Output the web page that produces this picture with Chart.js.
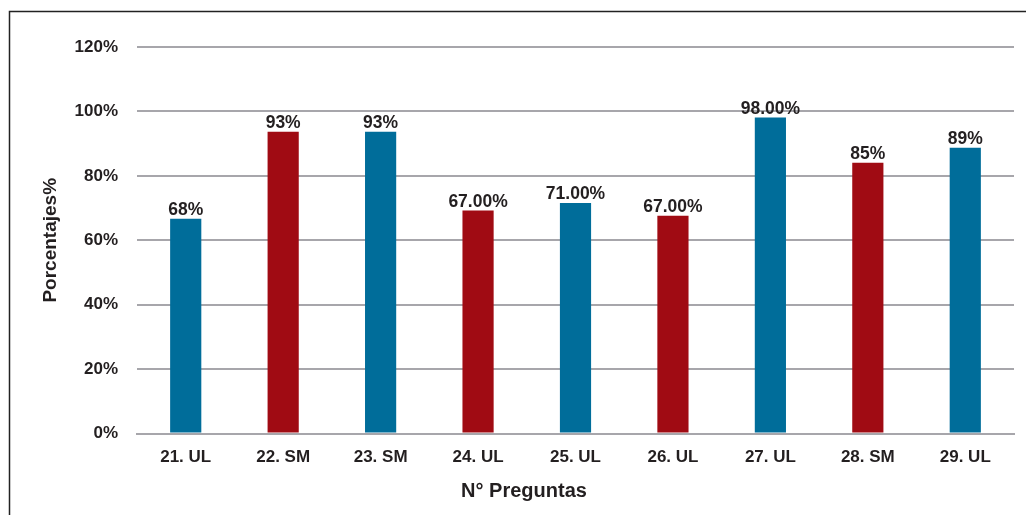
<!DOCTYPE html>
<html>
<head>
<meta charset="utf-8">
<script src="https://cdn.jsdelivr.net/npm/chart.js@4.4.1/dist/chart.umd.min.js"></script>
<style>
  html, body { margin: 0; padding: 0; background: #fff; }
  #wrap { position: relative; width: 1026px; height: 515px; }
</style>
</head>
<body>
<div id="wrap"><canvas id="grafico"></canvas></div>
<script>
// datos
const preguntas = ['21. UL', '22. SM', '23. SM', '24. UL', '25. UL', '26. UL', '27. UL', '28. SM', '29. UL'];
const porcentajes = [66.7, 93.7, 93.7, 69.2, 71.6, 67.6, 98.1, 84.1, 88.7];
const etiquetas = ['68%', '93%', '93%', '67.00%', '71.00%', '67.00%', '98.00%', '85%', '89%'];
const ticksY = [0, 20, 40, 60, 80, 100, 120];

const AZUL = '#006d9a';
const ROJO = '#a00b13';
const TEXTO = '#231f20';
const FUENTE = "'Liberation Sans', Arial, sans-serif";

// etiquetas sobre cada barra + marco + titulo del eje x
const extras = {
  id: 'extras',
  afterDatasetsDraw(chart) {
    const c = chart.ctx;
    const meta = chart.getDatasetMeta(0);
    c.save();
    c.fillStyle = TEXTO;
    c.font = "bold 17.5px " + FUENTE;
    c.textAlign = 'center';
    c.textBaseline = 'alphabetic';
    meta.data.forEach((bar, i) => {
      c.fillText(etiquetas[i], bar.x, bar.y - 4);
    });
    c.font = "bold 20px " + FUENTE;
    c.textBaseline = 'middle';
    c.fillText('N° Preguntas', 524, 491);
    c.restore();
  },
  beforeDraw(chart) {
    const c = chart.ctx;
    c.save();
    c.strokeStyle = '#222';
    c.lineWidth = 1.5;
    c.strokeRect(9.5, 11.5, 1100, 600);
    c.restore();
  }
};

new Chart(document.getElementById('grafico'), {
  type: 'bar',
  data: {
    labels: preguntas,
    datasets: [{
      label: 'Porcentajes',
      data: porcentajes,
      backgroundColor: preguntas.map((p, i) => i % 2 === 0 ? AZUL : ROJO),
      borderWidth: 0,
      categoryPercentage: 1,
      barPercentage: 0.32
    }]
  },
  options: {
    responsive: true,
    maintainAspectRatio: false,
    animation: false,
    layout: { padding: { top: 47, right: 12, bottom: 0, left: 0 } },
    plugins: { legend: { display: false }, tooltip: { enabled: false } },
    scales: {
      x: {
        grid: { display: false, drawTicks: false },
        border: { color: '#a7a6ab', width: 2 },
        ticks: { color: TEXTO, font: { family: FUENTE, size: 17, weight: 'bold' }, padding: 14 },
        afterFit(s) { s.height = 81.5; }
      },
      y: {
        min: 0,
        max: 120,
        afterBuildTicks(s) { s.ticks = ticksY.map(v => ({ value: v })); },
        grid: { color: '#a7a6ab', lineWidth: 2, drawTicks: false },
        border: { display: false },
        ticks: {
          color: TEXTO,
          font: { family: FUENTE, size: 17, weight: 'bold' },
          padding: 19,
          callback: v => v + '%'
        },
        title: {
          display: true,
          text: 'Porcentajes%',
          color: TEXTO,
          font: { family: FUENTE, size: 19, weight: 'bold' },
          padding: { top: 39, bottom: 0 }
        },
        afterFit(s) { s.width = 137; }
      }
    }
  },
  plugins: [extras]
});
</script>
</body>
</html>
